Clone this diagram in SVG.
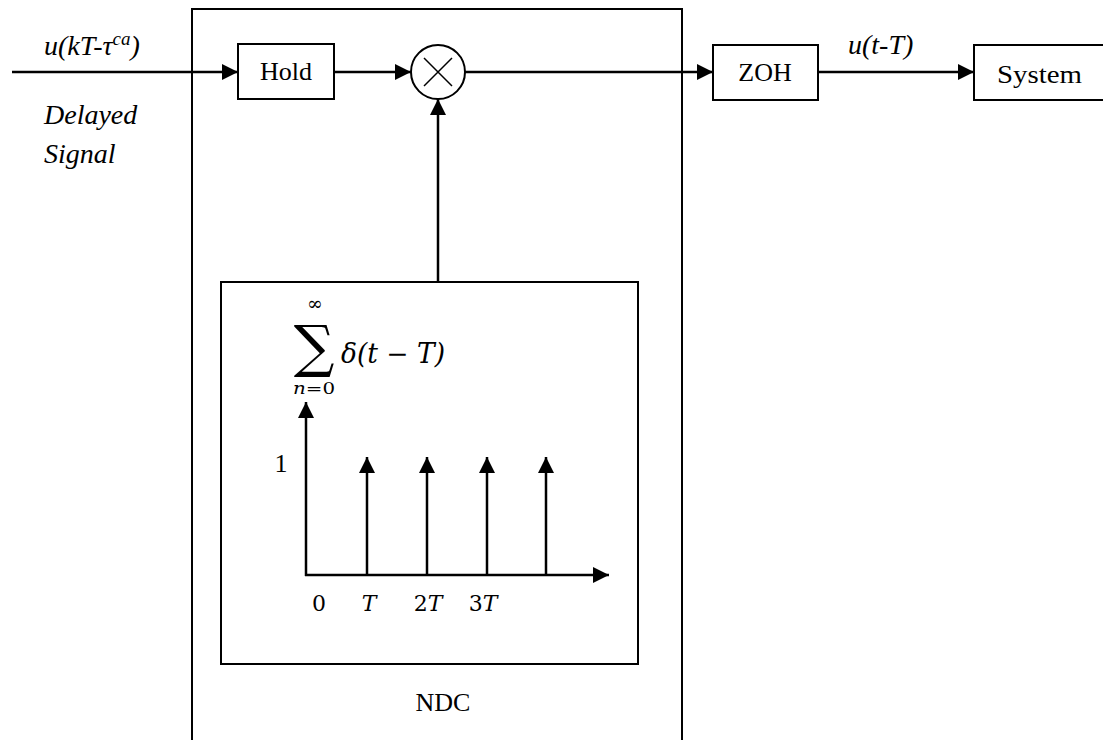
<svg xmlns="http://www.w3.org/2000/svg" width="1103" height="740" viewBox="0 0 1103 740">
<defs>
<marker id="ah" viewBox="0 0 10 10" refX="10" refY="5" markerWidth="16" markerHeight="16" markerUnits="userSpaceOnUse" orient="auto">
<path d="M0,0 L10,5 L0,10 z" fill="#000"/>
</marker>
</defs>
<style>
.box{fill:#fff;stroke:#000;stroke-width:2}
.ln{fill:none;stroke:#000;stroke-width:2.5}
.t{font-family:"Liberation Serif",serif;font-size:26px;fill:#000}
.i{font-family:"Liberation Serif",serif;font-style:italic;font-size:28px;fill:#000}
.m{font-family:"DejaVu Serif","Liberation Serif",serif;fill:#000}
</style>
<rect width="1103" height="740" fill="#fff"/>
<g id="ndc">
<path d="M192,740 V9 H682 V740" fill="none" stroke="#000" stroke-width="2"/>
<text class="t" font-size="28" x="443" y="711" text-anchor="middle">NDC</text>
</g>
<g id="connectors">
<line class="ln" x1="12" y1="72" x2="238" y2="72" marker-end="url(#ah)"/>
<line class="ln" x1="334" y1="72" x2="411" y2="72" marker-end="url(#ah)"/>
<line class="ln" x1="438" y1="282" x2="438" y2="99" marker-end="url(#ah)"/>
<line class="ln" x1="465" y1="72" x2="713" y2="72" marker-end="url(#ah)"/>
<line class="ln" x1="818" y1="72" x2="974" y2="72" marker-end="url(#ah)"/>
</g>
<g id="labels">
<text class="i" x="44" y="55">u(kT-<tspan>τ</tspan><tspan font-size="19" dy="-10">ca</tspan><tspan dy="10">)</tspan></text>
<text class="i" x="44" y="124">Delayed</text>
<text class="i" x="44" y="163">Signal</text>
<text class="i" x="848" y="54">u(t-T)</text>
</g>
<g id="hold">
<rect class="box" x="238" y="44" width="96" height="55"/>
<text class="t" x="286" y="80" text-anchor="middle">Hold</text>
</g>
<g id="multiplier">
<circle cx="438" cy="72" r="27" fill="#fff" stroke="#000" stroke-width="2"/>
<path d="M424,58 L452,86 M452,58 L424,86" stroke="#000" stroke-width="1.5"/>
</g>
<g id="zoh">
<rect class="box" x="713" y="45" width="105" height="55"/>
<text class="t" x="765" y="81" text-anchor="middle">ZOH</text>
</g>
<g id="system">
<rect class="box" x="974" y="45" width="140" height="55"/>
<text class="t" font-size="28" x="997" y="83" textLength="85" lengthAdjust="spacingAndGlyphs">System</text>
</g>
<g id="impulse-train">
<rect class="box" x="221" y="282" width="417" height="382"/>
<text class="m" x="315" y="310" font-size="19" text-anchor="middle">∞</text>
<text class="m" x="314" y="366" font-size="57" text-anchor="middle">∑</text>
<text class="m" font-style="italic" x="341" y="363" font-size="27" textLength="104" lengthAdjust="spacingAndGlyphs">δ(t − T)</text>
<text class="m" x="293" y="394" font-size="17" textLength="42" lengthAdjust="spacingAndGlyphs"><tspan font-style="italic">n</tspan>=0</text>
<line class="ln" x1="306" y1="576" x2="306" y2="402" marker-end="url(#ah)"/>
<line class="ln" x1="305" y1="575" x2="609" y2="575" marker-end="url(#ah)"/>
<line class="ln" x1="367" y1="575" x2="367" y2="457" marker-end="url(#ah)"/>
<line class="ln" x1="427" y1="575" x2="427" y2="457" marker-end="url(#ah)"/>
<line class="ln" x1="487" y1="575" x2="487" y2="457" marker-end="url(#ah)"/>
<line class="ln" x1="546" y1="575" x2="546" y2="457" marker-end="url(#ah)"/>
<text class="t" font-size="21" x="281" y="472" text-anchor="middle">1</text>
<text class="m" font-size="22" x="319" y="611" text-anchor="middle">0</text>
<text class="m" font-size="22" font-style="italic" x="369" y="611" text-anchor="middle">T</text>
<text class="m" font-size="22" x="428" y="611" text-anchor="middle">2<tspan font-style="italic">T</tspan></text>
<text class="m" font-size="22" x="483" y="611" text-anchor="middle">3<tspan font-style="italic">T</tspan></text>
</g>
</svg>
